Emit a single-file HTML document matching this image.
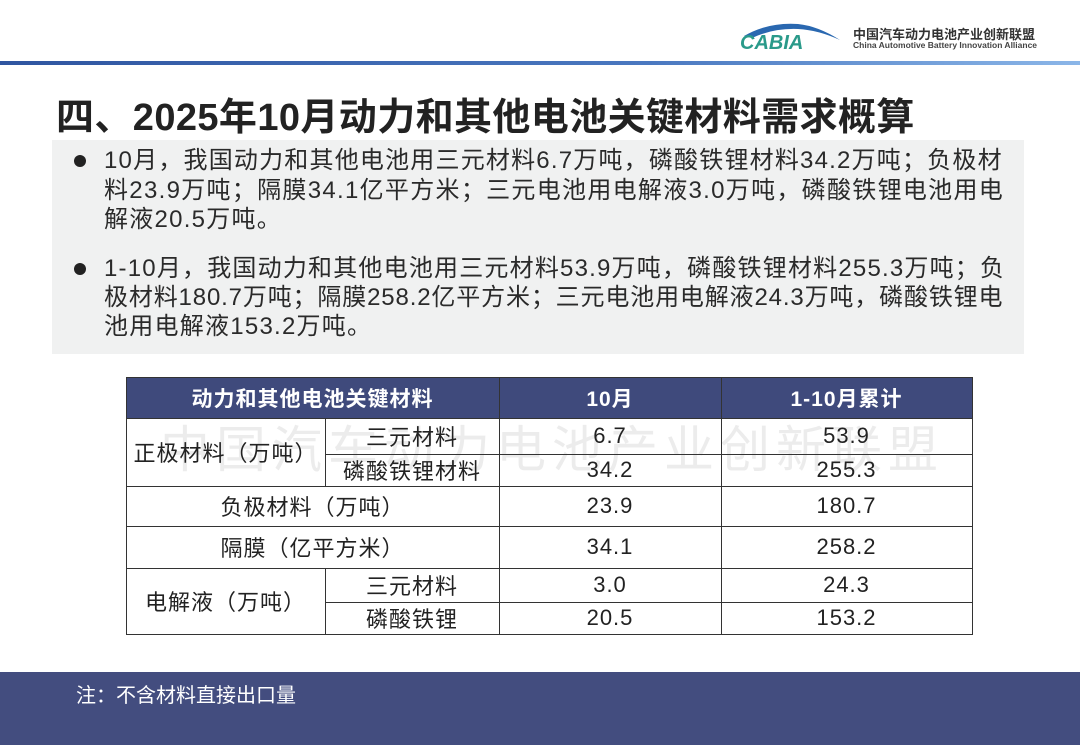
<!DOCTYPE html>
<html><head><meta charset="utf-8"><style>
body{margin:0;width:1080px;height:745px;position:relative;overflow:hidden;background:#fff;font-family:"Liberation Sans","Noto Sans CJK SC",sans-serif;color:#222}
.a{position:absolute}
.t{position:absolute;white-space:nowrap;font-size:24px;letter-spacing:1.25px;left:104px;line-height:30px;color:#2a2a2a}
.c{position:absolute;display:flex;align-items:center;justify-content:center;font-size:22px;letter-spacing:1px;color:#222;box-sizing:border-box}
.h{color:#fff;font-weight:bold;font-size:21px}
.ln{position:absolute;background:#333}
</style></head><body>
<div class="a" style="left:0;top:61px;width:1080px;height:4px;background:linear-gradient(90deg,#2f55a0,#4a78c0 60%,#8bb6e8)"></div>
<svg class="a" style="left:738px;top:18px" width="110" height="34" viewBox="0 0 110 34">
<path d="M6 18 Q30 4 60 6 Q80 8 102 22 Q80 12 60 11 Q35 10 14 20Z" fill="#2a68b0"/>
<text x="2" y="31" font-family="Liberation Sans" font-style="italic" font-weight="bold" font-size="20" fill="#2a9a8a">CABIA</text>
</svg>
<div class="a" style="left:853px;top:24px;font-size:13px;font-weight:bold;color:#333">中国汽车动力电池产业创新联盟</div>
<div class="a" style="left:853px;top:40px;font-size:8.5px;font-weight:bold;color:#444">China Automotive Battery Innovation Alliance</div>
<div class="a" style="left:56px;top:86px;font-size:38px;font-weight:bold;color:#222;white-space:nowrap;letter-spacing:0.4px">四、2025年10月动力和其他电池关键材料需求概算</div>
<div class="a" style="left:52px;top:140px;width:972px;height:214px;background:#f0f1f1"></div>
<div class="a" style="left:74px;top:155px;width:12px;height:12px;border-radius:50%;background:#222"></div>
<div class="a" style="left:74px;top:263px;width:12px;height:12px;border-radius:50%;background:#222"></div>
<div class="t" style="top:146px;letter-spacing:1.2px">10月，我国动力和其他电池用三元材料6.7万吨，磷酸铁锂材料34.2万吨；负极材</div>
<div class="t" style="top:176px;letter-spacing:1.3px">料23.9万吨；隔膜34.1亿平方米；三元电池用电解液3.0万吨，磷酸铁锂电池用电</div>
<div class="t" style="top:205px">解液20.5万吨。</div>
<div class="t" style="top:254px;letter-spacing:1.2px">1-10月，我国动力和其他电池用三元材料53.9万吨，磷酸铁锂材料255.3万吨；负</div>
<div class="t" style="top:283px;letter-spacing:0.85px">极材料180.7万吨；隔膜258.2亿平方米；三元电池用电解液24.3万吨，磷酸铁锂电</div>
<div class="t" style="top:312px">池用电解液153.2万吨。</div>
<div class="a" style="left:126px;top:377px;width:846px;height:41px;background:#3f4a7c"></div>
<div class="a" style="left:160px;top:410px;font-size:50px;color:rgba(180,180,180,.25);white-space:nowrap;letter-spacing:6px">中国汽车动力电池产业创新联盟</div>
<div class="c h" style="left:126px;top:377px;width:373px;height:41px">动力和其他电池关键材料</div>
<div class="c h" style="left:499px;top:377px;width:222px;height:41px">10月</div>
<div class="c h" style="left:721px;top:377px;width:251px;height:41px">1-10月累计</div>
<div class="c" style="left:126px;top:418px;width:199px;height:68px">正极材料（万吨）</div>
<div class="c" style="left:325px;top:418px;width:174px;height:36px">三元材料</div>
<div class="c" style="left:325px;top:454px;width:174px;height:32px">磷酸铁锂材料</div>
<div class="c" style="left:499px;top:418px;width:222px;height:36px">6.7</div>
<div class="c" style="left:721px;top:418px;width:251px;height:36px">53.9</div>
<div class="c" style="left:499px;top:454px;width:222px;height:32px">34.2</div>
<div class="c" style="left:721px;top:454px;width:251px;height:32px">255.3</div>
<div class="c" style="left:126px;top:486px;width:373px;height:40px">负极材料（万吨）</div>
<div class="c" style="left:499px;top:486px;width:222px;height:40px">23.9</div>
<div class="c" style="left:721px;top:486px;width:251px;height:40px">180.7</div>
<div class="c" style="left:126px;top:526px;width:373px;height:42px">隔膜（亿平方米）</div>
<div class="c" style="left:499px;top:526px;width:222px;height:42px">34.1</div>
<div class="c" style="left:721px;top:526px;width:251px;height:42px">258.2</div>
<div class="c" style="left:126px;top:568px;width:199px;height:66px">电解液（万吨）</div>
<div class="c" style="left:325px;top:568px;width:174px;height:34px">三元材料</div>
<div class="c" style="left:325px;top:602px;width:174px;height:32px">磷酸铁锂</div>
<div class="c" style="left:499px;top:568px;width:222px;height:34px">3.0</div>
<div class="c" style="left:721px;top:568px;width:251px;height:34px">24.3</div>
<div class="c" style="left:499px;top:602px;width:222px;height:32px">20.5</div>
<div class="c" style="left:721px;top:602px;width:251px;height:32px">153.2</div>
<div class="ln" style="left:126px;top:377px;width:846px;height:1px"></div>
<div class="ln" style="left:126px;top:418px;width:846px;height:1px"></div>
<div class="ln" style="left:325px;top:454px;width:647px;height:1px"></div>
<div class="ln" style="left:126px;top:486px;width:846px;height:1px"></div>
<div class="ln" style="left:126px;top:526px;width:846px;height:1px"></div>
<div class="ln" style="left:126px;top:568px;width:846px;height:1px"></div>
<div class="ln" style="left:325px;top:602px;width:647px;height:1px"></div>
<div class="ln" style="left:126px;top:634px;width:847px;height:1px"></div>
<div class="ln" style="left:126px;top:377px;width:1px;height:257px"></div>
<div class="ln" style="left:972px;top:377px;width:1px;height:257px"></div>
<div class="ln" style="left:499px;top:377px;width:1px;height:257px"></div>
<div class="ln" style="left:721px;top:377px;width:1px;height:257px"></div>
<div class="ln" style="left:325px;top:418px;width:1px;height:68px"></div>
<div class="ln" style="left:325px;top:568px;width:1px;height:66px"></div>
<div class="a" style="left:0;top:672px;width:1080px;height:73px;background:#434d7f"></div>
<div class="a" style="left:76px;top:679px;font-size:20px;color:#fff;white-space:nowrap">注：不含材料直接出口量</div>
</body></html>
